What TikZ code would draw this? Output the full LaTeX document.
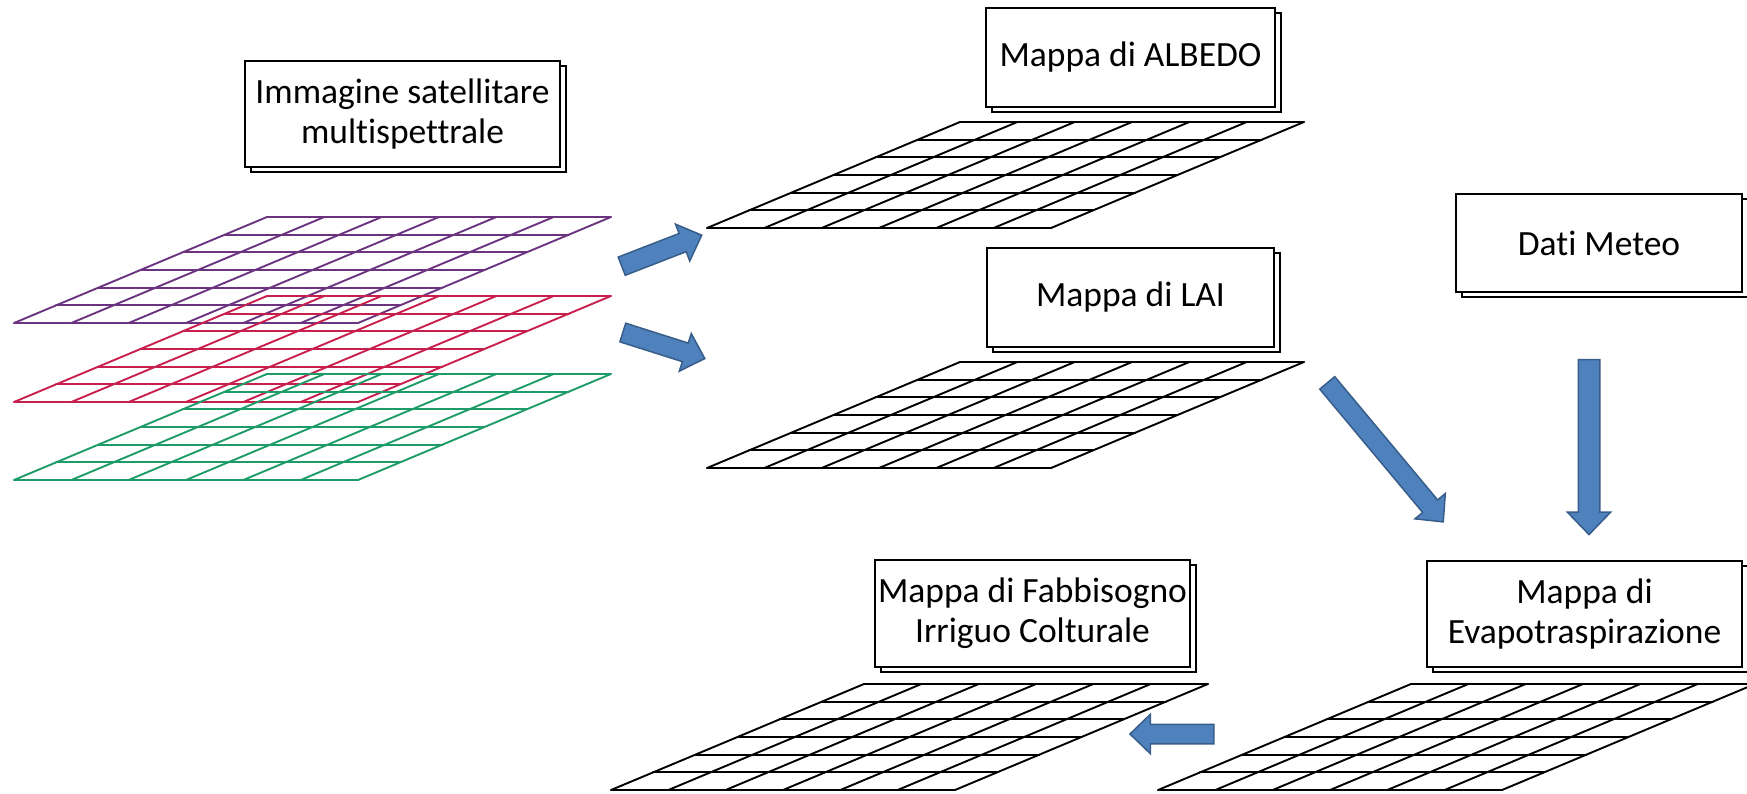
\documentclass[tikz,border=0pt]{standalone}
\usepackage{fontspec}
\setmainfont{Carlito}[Ligatures=CommonOff]
\usetikzlibrary{shapes.arrows,shadows,calc}

\definecolor{bandA}{RGB}{108,52,128}
\definecolor{bandB}{RGB}{200,32,76}
\definecolor{bandC}{RGB}{30,156,104}
\definecolor{arrowfill}{RGB}{79,129,189}
\definecolor{arrowline}{RGB}{56,93,138}

\tikzset{
  layerbox/.style={draw=black, line width=1.5pt, fill=white, inner sep=0pt,
    align=center, font=\fontsize{35.5}{40}\selectfont,
    copy shadow={shadow xshift=6pt, shadow yshift=-5pt}},
  blockarrow/.style={single arrow, draw=arrowline, fill=arrowfill,
    line width=1.5pt, inner xsep=0pt, inner ysep=9pt,
    minimum width=38pt, single arrow head extend=10pt,
    single arrow tip angle=88, allow upside down, sloped},
  gridline/.style={line width=1.9pt, line cap=round},
}

% raster layer: 6 x 6 cells on a slanted plane, given by its lower left corner
\newcommand\rasterlayer[3]{%
  \coordinate (#3) at #1;
  \begin{scope}[shift={#1}, x={(57.33pt,0pt)}, y={(42.17pt,17.67pt)}]
    \foreach \k in {0,...,6} {
      \draw[gridline, draw=#2] (\k,0) -- (\k,6);
      \draw[gridline, draw=#2] (0,\k) -- (6,\k);
    }
  \end{scope}}

% block arrow between two named coordinates
\newcommand\blockarrowfromto[4][]{%
  \path let \p1=($(#3)-(#2)$), \n1={veclen(\x1,\y1)} in
    (#2) -- (#3) node[blockarrow, #1, midway, minimum height=\n1] (#4) {};}

\begin{document}
\begin{tikzpicture}[x=1pt, y=-1pt]
\useasboundingbox (0,0) rectangle (1747,793);
\clip (0,0) rectangle (1747,793);

% multispectral bands
\rasterlayer{(14,323)}{bandA}{bandone}
\rasterlayer{(14,402)}{bandB}{bandtwo}
\rasterlayer{(14,480)}{bandC}{bandthree}
\node[layerbox, minimum width=315pt, minimum height=106pt] (sat) at (402.5,114)
  {Immagine satellitare\\multispettrale};

% derived maps
\rasterlayer{(707,228)}{black}{albedogrid}
\node[layerbox, minimum width=289pt, minimum height=99pt] (albedo) at (1130.5,57.5)
  {Mappa di ALBEDO};

\rasterlayer{(707,468)}{black}{laigrid}
\node[layerbox, minimum width=287pt, minimum height=99pt] (lai) at (1130.5,297.5)
  {Mappa di LAI};

\node[layerbox, minimum width=286pt, minimum height=98pt] (meteo) at (1599,243)
  {Dati Meteo};

\rasterlayer{(1158,790)}{black}{etgrid}
\node[layerbox, minimum width=315pt, minimum height=106pt] (et) at (1584.5,614)
  {Mappa di\\Evapotraspirazione};

\rasterlayer{(611,790)}{black}{irrgrid}
\node[layerbox, minimum width=315pt, minimum height=107pt] (irr) at (1032.5,613.5)
  {Mappa di Fabbisogno\\Irriguo Colturale};

% processing flow
\coordinate (s1) at (617,268);   \coordinate (e1) at (697,237);
\coordinate (s2) at (618,331);   \coordinate (e2) at (700,357);
\coordinate (s3) at (1324,379);  \coordinate (e3) at (1440,518);
\coordinate (s4) at (1589,354);  \coordinate (e4) at (1589,529);
\coordinate (s5) at (1219,734);  \coordinate (e5) at (1135,734);

\blockarrowfromto{s1}{e1}{toalbedo}
\blockarrowfromto{s2}{e2}{tolai}
\blockarrowfromto{s3}{e3}{laitoet}
\blockarrowfromto[minimum width=42pt, single arrow head extend=11pt, inner ysep=10pt]{s4}{e4}{meteotoet}
\blockarrowfromto{s5}{e5}{ettoirr}
\end{tikzpicture}
\end{document}
